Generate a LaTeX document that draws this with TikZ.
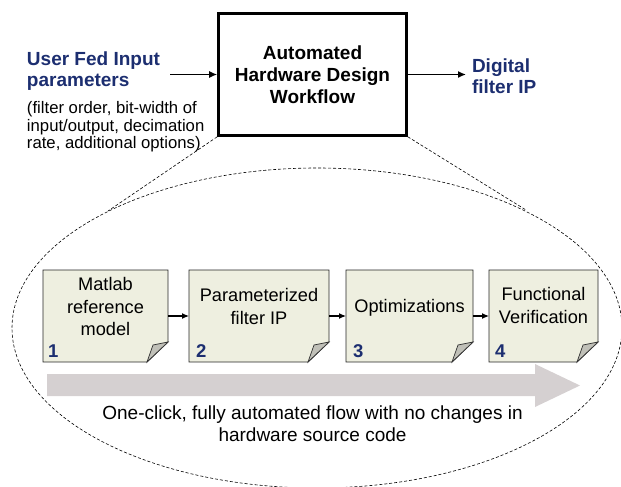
\documentclass[tikz,border=0pt]{standalone}
\usepackage{fontspec}
\setmainfont{Liberation Sans}
\usetikzlibrary{arrows.meta,backgrounds,calc}
\definecolor{navy}{RGB}{28,46,112}
\definecolor{boxfill}{RGB}{238,239,224}
\definecolor{foldgray}{RGB}{192,192,184}
\definecolor{flowgray}{RGB}{213,208,209}
\begin{document}
\begin{tikzpicture}[x=1pt,y=-1pt,
  every node/.style={inner sep=0pt,outer sep=0pt},
  bluelbl/.style={font=\fontsize{19}{21}\selectfont\bfseries,text=navy,align=left,anchor=west},
  smalltxt/.style={font=\fontsize{16.7}{17.5}\selectfont,align=left,anchor=west},
  wfbox/.style={draw,line width=2.6pt,outer sep=1.3pt,minimum width=188pt,minimum height=122pt,
    align=center,font=\fontsize{19}{22}\selectfont\bfseries},
  procbox/.style={minimum height=92pt},
  proctext/.style={font=\fontsize{18.2}{22.5}\selectfont,align=center},
  numlbl/.style={font=\fontsize{18.5}{20}\selectfont\bfseries,text=navy,anchor=base west},
  bottomtxt/.style={font=\fontsize{19}{22}\selectfont,align=center},
  link/.style={-{Latex[length=8pt,width=7pt]},line width=1.4pt},
  smalllink/.style={-{Latex[length=7pt,width=6pt]},line width=1.1pt},
  zoomline/.style={dash pattern=on 3pt off 2pt,line width=0.6pt},
  boxoutline/.style={fill=boxfill,draw=black!85,line width=0.9pt},
  foldstyle/.style={fill=foldgray,draw=black!80,line width=0.7pt}
]
\useasboundingbox (0,0) rectangle (621,487);

% top part
\node (wf) [wfbox] at (312.5,74.5) {Automated\\Hardware Design\\Workflow};
\node (inlbl) [bluelbl] at (27,71) {User Fed Input\\parameters};
\node (inparams) [smalltxt] at (27,127) {(filter order, bit-width of\\input/output, decimation\\rate, additional options)};
\node (outlbl) [bluelbl] at (472,76.5) {Digital\\filter IP};
\coordinate (ain) at (170,74.5);
\coordinate (aout) at (466,74.5);
\draw[link] (ain) -- (wf.west);
\draw[link] (wf.east) -- (aout);

% zoom lines
\coordinate (tl) at (108,211);
\coordinate (tr) at (526,210);
\draw[zoomline] (wf.south west) -- (tl);
\draw[zoomline] (wf.south east) -- (tr);

% process boxes
\node (b1) [procbox,minimum width=125pt] at (105.5,316) {};
\node (b2) [procbox,minimum width=140pt] at (259,316) {};
\node (b3) [procbox,minimum width=127pt] at (409.5,316) {};
\node (b4) [procbox,minimum width=109pt] at (543.5,316) {};

\begin{scope}[on background layer]
  \draw[zoomline] (317,328) ellipse [x radius=305pt, y radius=160pt];
  \fill[flowgray] (47,374) -- (535,374) -- (535,364) -- (580,385.5) -- (535,407) -- (535,396) -- (47,396) -- cycle;
  \foreach \b in {b1,b2,b3,b4}{
    \filldraw[boxoutline] (\b.north west) -- (\b.north east) -- ([yshift=20pt]\b.south east)
      -- ([xshift=-21pt]\b.south east) -- (\b.south west) -- cycle;
    \filldraw[foldstyle] ([xshift=-21pt]\b.south east)
      .. controls ([xshift=-18pt,yshift=9pt]\b.south east) .. ([xshift=-15pt,yshift=17pt]\b.south east)
      .. controls ([xshift=-7pt,yshift=18.5pt]\b.south east) .. ([yshift=20pt]\b.south east) -- cycle;
  }
\end{scope}

\node (t1) [proctext] at (105.5,306.5) {Matlab\\reference\\model};
\node (t2) [proctext] at (259,306.5) {Parameterized\\filter IP};
\node (t3) [proctext] at (409.5,308) {Optimizations};
\node (t4) [proctext] at (543.5,305.5) {Functional\\Verification};

\node (n1) [numlbl] at ([xshift=5pt,yshift=5pt]b1.south west) {1};
\node (n2) [numlbl] at ([xshift=7pt,yshift=5pt]b2.south west) {2};
\node (n3) [numlbl] at ([xshift=7pt,yshift=5pt]b3.south west) {3};
\node (n4) [numlbl] at ([xshift=6pt,yshift=5pt]b4.south west) {4};

\draw[smalllink] (b1.east) -- (b2.west);
\draw[smalllink] (b2.east) -- (b3.west);
\draw[smalllink] (b3.east) -- (b4.west);

\node (flowtxt) [bottomtxt] at (312.5,424) {One-click, fully automated flow with no changes in\\hardware source code};
\end{tikzpicture}
\end{document}
